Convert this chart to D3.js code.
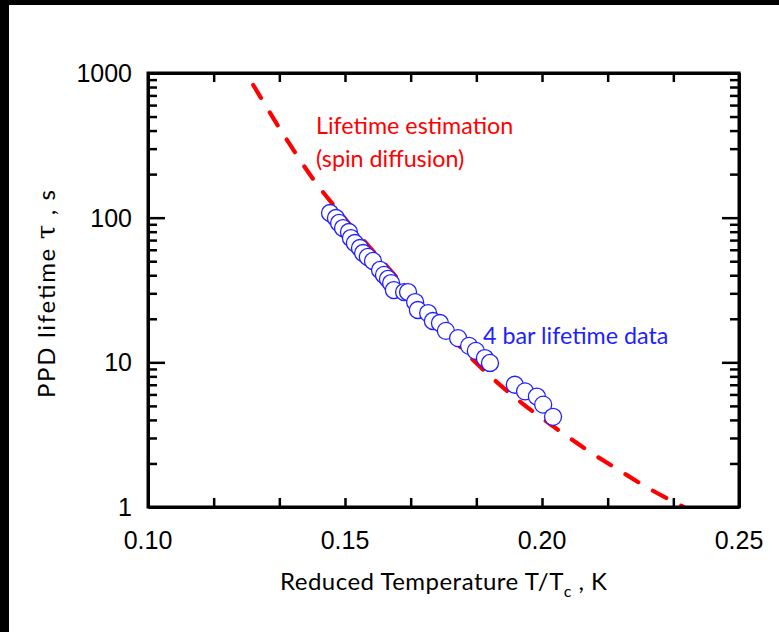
<!DOCTYPE html>
<html><head><meta charset="utf-8">
<script src="https://cdn.jsdelivr.net/npm/d3@7"></script>
<style>body{margin:0;background:#fff}svg{display:block}</style>
</head><body>
<svg id="c" width="779" height="632"></svg>
<script>
// Data: 4 bar lifetime data (reduced temperature, lifetime in s)
const dataT   = [0.1462,0.1477,0.1485,0.1495,0.1510,0.1515,0.1525,0.1538,0.1546,0.1558,0.1571,0.1589,0.1599,0.1609,0.1617,0.1624,0.1650,0.1660,0.1678,0.1685,0.1711,0.1723,0.1741,0.1756,0.1787,0.1815,0.1832,0.1855,0.1868,0.1931,0.1957,0.1987,0.2003,0.2028];
const dataTau = [107.7,99.5,91.9,84.8,79.6,72.3,66.8,61.7,57.0,53.5,50.2,43.5,40.2,37.7,35.3,31.6,30.6,30.6,26.1,23.0,21.9,19.3,18.7,16.5,14.7,13.0,12.0,10.7,9.9,7.0,6.3,5.8,5.1,4.2];
// Lifetime estimation curve (spin diffusion)
const fitT   = [0.1267,0.1343,0.1421,0.1505,0.1635,0.1792,0.1868,0.1949,0.2031,0.2114,0.2195,0.2274,0.2360];
const fitTau = [826,379,182,94.8,37.7,12.8,8.05,5.23,3.57,2.48,1.80,1.33,1.0];
const xTicks = [0.10,0.15,0.20,0.25];
const yTicks = [1,10,100,1000];

const svg = d3.select("#c");
// black frame remnants
svg.append("rect").attr("x",0).attr("y",0).attr("width",779).attr("height",5).attr("fill","#000");
svg.append("rect").attr("x",0).attr("y",0).attr("width",9).attr("height",632).attr("fill","#000");

const L=148,R=739,T=73,B=507;
const x = d3.scaleLinear().domain([0.10,0.25]).range([L,R]);
const y = d3.scaleLog().domain([1,1000]).range([B,T]);

const defs = svg.append("defs");
defs.append("clipPath").attr("id","clip").append("rect").attr("x",L).attr("y",T).attr("width",R-L).attr("height",B-T);

// curve
const line = d3.line().x((d,i)=>x(fitT[i])).y((d,i)=>y(fitTau[i])).curve(d3.curveMonotoneX);
svg.append("path").datum(fitT).attr("d",line).attr("clip-path","url(#clip)")
  .attr("fill","none").attr("stroke","#ff0000").attr("stroke-width",4.2)
  .attr("stroke-dasharray","15,17").attr("stroke-linecap","round");

// points
svg.append("g").selectAll("circle").data(dataT).join("circle")
  .attr("cx",(d,i)=>x(d)).attr("cy",(d,i)=>y(dataTau[i])).attr("r",8.5)
  .attr("fill","#fff").attr("stroke","#1f1fff").attr("stroke-width",1.3);

// axes (ticks inward)
const minorX = d3.range(0.10,0.2501,0.05/3);
const axStyle = g=>{g.selectAll("path").attr("stroke","#000").attr("stroke-width",3);
  g.selectAll("line").attr("stroke","#000").attr("stroke-width",2.5);};
svg.append("g").attr("transform",`translate(0,${B})`)
  .call(d3.axisTop(x).tickValues(minorX).tickSize(9).tickSizeOuter(0).tickFormat(""))
  .call(axStyle);
svg.append("g").attr("transform",`translate(0,${T})`)
  .call(d3.axisBottom(x).tickValues(minorX).tickSize(9).tickSizeOuter(0).tickFormat(""))
  .call(axStyle);
const minorY = [];
for (let e=0;e<3;e++) for (let k=2;k<=9;k++) minorY.push(k*Math.pow(10,e));
svg.append("g").attr("transform",`translate(${L},0)`)
  .call(d3.axisRight(y).tickValues(minorY).tickSize(9).tickSizeOuter(0).tickFormat(""))
  .call(axStyle);
svg.append("g").attr("transform",`translate(${L},0)`)
  .call(d3.axisRight(y).tickValues([10,100]).tickSize(17).tickSizeOuter(0).tickFormat(""))
  .call(axStyle);
svg.append("g").attr("transform",`translate(${R},0)`)
  .call(d3.axisLeft(y).tickValues(minorY).tickSize(9).tickSizeOuter(0).tickFormat(""))
  .call(axStyle);
svg.append("g").attr("transform",`translate(${R},0)`)
  .call(d3.axisLeft(y).tickValues([10,100]).tickSize(17).tickSizeOuter(0).tickFormat(""))
  .call(axStyle);
svg.append("rect").attr("x",L).attr("y",T).attr("width",R-L).attr("height",B-T)
  .attr("fill","none").attr("stroke","#000").attr("stroke-width",3);

// tick labels
const lf = "'Liberation Sans', Arial, sans-serif";
svg.append("g").selectAll("text").data(yTicks).join("text")
  .attr("x",L-16).attr("y",d=>y(d)).attr("dy","0.36em").attr("text-anchor","end")
  .attr("font-family",lf).attr("font-size",25).attr("fill","#000").text(d=>d);
svg.append("g").selectAll("text").data(xTicks).join("text")
  .attr("x",d=>x(d)).attr("y",B+42).attr("text-anchor","middle")
  .attr("font-family",lf).attr("font-size",25).attr("fill","#000").text(d=>d3.format(".2f")(d));

// annotations
const cf = "Lato, 'Open Sans', sans-serif";
svg.append("text").attr("x",316).attr("y",134).attr("font-family",cf).attr("font-size",23.3).attr("fill","#ff0000").text("Lifetime estimation");
svg.append("text").attr("x",316).attr("y",167).attr("font-family",cf).attr("font-size",23.3).attr("fill","#ff0000").text("(spin diffusion)");
svg.append("text").attr("x",483).attr("y",344).attr("font-family",cf).attr("font-size",23.3).attr("fill","#1f1fff").text("4 bar lifetime data");

// axis titles
const xt = svg.append("text").attr("x",280).attr("y",590).attr("text-anchor","start")
  .attr("font-family",cf).attr("font-size",24).attr("fill","#000")
  .attr("textLength",327).attr("lengthAdjust","spacing");
xt.append("tspan").text("Reduced Temperature T/T");
xt.append("tspan").attr("font-size",16).attr("dy",7).text("c");
xt.append("tspan").attr("dy",-7).text(" , K");
const yt = svg.append("text").attr("transform","translate(55,398) rotate(-90)").attr("text-anchor","start")
  .attr("font-family",cf).attr("font-size",24).attr("fill","#000")
  .attr("textLength",208).attr("lengthAdjust","spacing");
yt.append("tspan").text("PPD lifetime ");
yt.append("tspan").attr("font-family","'DejaVu Serif', serif").attr("font-size",26).text("τ");
yt.append("tspan").text(" , s");
</script>
</body></html>
